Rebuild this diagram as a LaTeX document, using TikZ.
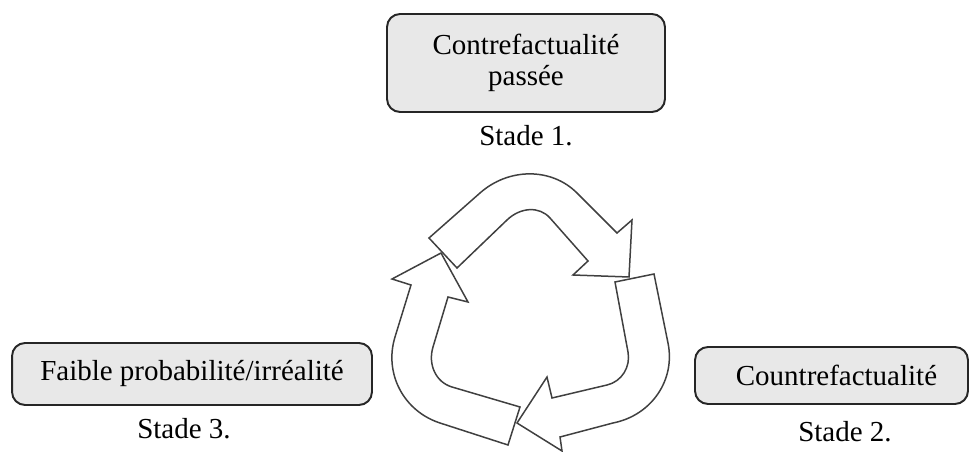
\documentclass[tikz,border=0pt]{standalone}
\usepackage{fontspec}
\setmainfont{Liberation Serif}
\usetikzlibrary{positioning}

\begin{document}
\begin{tikzpicture}[x=0.02cm, y=-0.02cm, thick,
	every node/.style={font=\fontsize{16.5}{17.5}\selectfont},
	stagebox/.style={draw=black!85, line width=1.1pt, fill=gray!18, rounded corners=0.26cm, inner sep=0pt, align=center},
	recycle/.style={draw=black!75, line width=0.85pt, fill=white, line join=miter}]
			\useasboundingbox (0,0) rectangle (971,452);

			% Draw the three boxes
			\node[stagebox, minimum width=5.56cm, minimum height=1.96cm] (past) at (526,63) {Contrefactualité\\passée};
			\node[stagebox, minimum width=5.46cm, minimum height=1.14cm] (counter) at (831.5,375.5) {\hspace{0.2cm}Countrefactualité};
			\node[stagebox, minimum width=7.2cm, minimum height=1.24cm] (unreal) at (192,374) {Faible probabilité/irréalité};

			% Draw the stage labels
			\node[anchor=base] (stageone) at (526,146) {Stade 1.};
			\node[anchor=base] (stagetwo) at (845,442) {Stade 2.};
			\node[anchor=base] (stagethree) at (184,439) {Stade 3.};

			% Draw the top arrow (stage 1 to stage 2)
			\draw[recycle] (429,238) -- (480,193) .. controls (508.8,167.5) and (551.5,167.5) .. (577,193) -- (617,233)
				-- (632,220) -- (629,277) -- (573,275) -- (588,261) -- (550,218)
				.. controls (539.5,206.1) and (520.6,207) .. (507,220) -- (457,268) -- cycle;

			% Draw the right arrow (stage 2 to stage 3)
			\draw[recycle] (654,274) -- (668,343) .. controls (675.6,380.2) and (651.4,415.4) .. (613,423) -- (560,437)
				-- (562,451) -- (517,423) -- (547,377) -- (552,398) -- (607,385)
				.. controls (621.6,381.6) and (630.8,367.1) .. (628,352) -- (615,282) -- cycle;

			% Draw the left arrow (stage 3 to stage 1)
			\draw[recycle] (508,445) -- (440,423) .. controls (403.6,411.2) and (383.8,373.4) .. (395,337) -- (411,285)
				-- (392,279) -- (441,253) -- (468,302) -- (448,297) -- (433,347)
				.. controls (427.7,364.7) and (436,382.3) .. (452,387) -- (520,407) -- cycle;

		\end{tikzpicture}
\end{document}
